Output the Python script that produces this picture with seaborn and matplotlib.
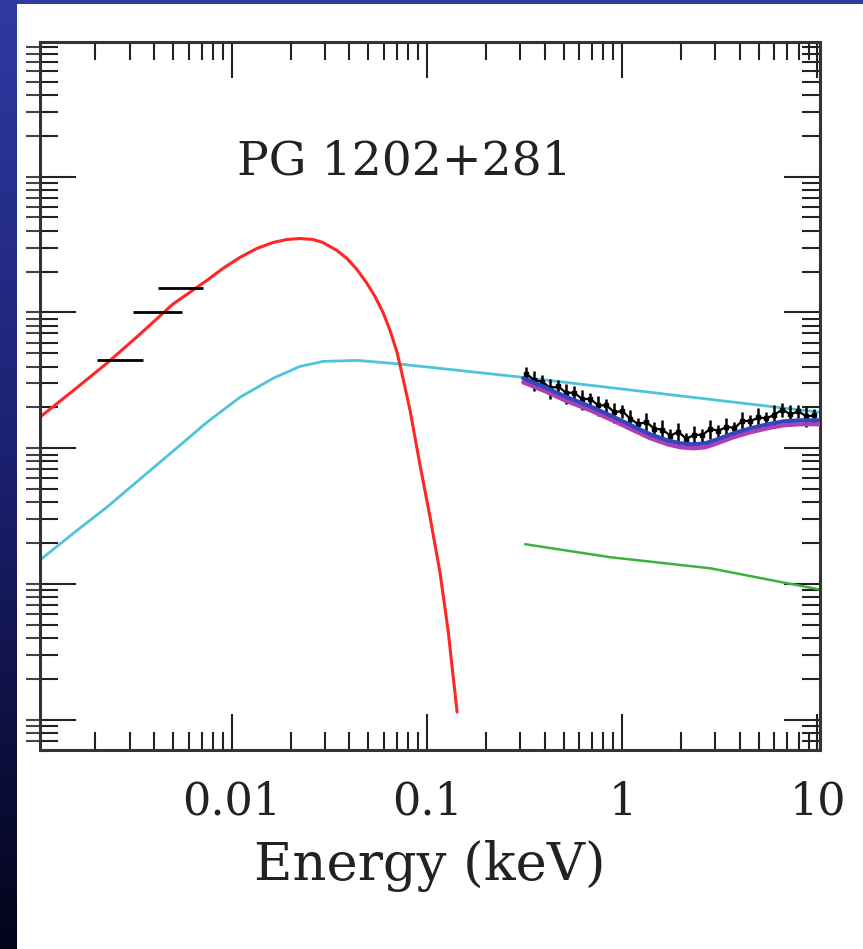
import numpy as np
import pandas as pd
import matplotlib
matplotlib.use("Agg")
import matplotlib.pyplot as plt
import seaborn as sns
from matplotlib.ticker import LogLocator, FixedLocator, FixedFormatter, NullFormatter
from matplotlib.colors import LinearSegmentedColormap

# ---------------- data (energy in keV, flux in arbitrary units) ----------------
disk_E = [1.036e-3, 1.530e-3, 2.286e-3, 3.375e-3, 4.983e-3, 7.443e-3, 8.991e-3, 1.099e-2,
          1.343e-2, 1.623e-2, 1.915e-2, 2.232e-2, 2.602e-2, 2.929e-2, 3.455e-2, 3.887e-2,
          4.375e-2, 4.924e-2, 5.412e-2, 5.948e-2, 6.461e-2, 7.018e-2, 7.530e-2, 8.180e-2,
          9.206e-2, 0.1036, 0.1166, 0.1281, 0.1425]
disk_F = [1.690e-3, 2.640e-3, 4.217e-3, 6.900e-3, 1.150e-2, 1.719e-2, 2.106e-2, 2.538e-2,
          2.956e-2, 3.271e-2, 3.441e-2, 3.500e-2, 3.441e-2, 3.271e-2, 2.857e-2, 2.495e-2,
          2.071e-2, 1.633e-2, 1.311e-2, 1.000e-2, 7.371e-3, 5.080e-3, 3.271e-3, 1.903e-3,
          7.499e-4, 3.109e-4, 1.204e-4, 4.589e-5, 1.145e-5]

comp_E = [1.036e-3, 1.530e-3, 2.286e-3, 3.375e-3, 4.983e-3, 7.443e-3, 1.099e-2, 1.623e-2,
          2.232e-2, 2.929e-2, 4.375e-2, 6.69e-2, 0.1166, 0.3108, 10.36]
comp_F = [1.501e-4, 2.350e-4, 3.683e-4, 5.917e-4, 9.500e-4, 1.553e-3, 2.371e-3, 3.271e-3,
          4.007e-3, 4.361e-3, 4.436e-3, 4.217e-3, 3.875e-3, 3.327e-3, 1.839e-3]

pl_E = [0.318, 0.867, 2.82, 7.01, 10.7]
pl_F = [1.97e-4, 1.58e-4, 1.31e-4, 1.016e-4, 9.04e-5]

model_E = [0.3108, 0.4029, 0.522, 0.6853, 0.8887, 1.139, 1.392, 1.701, 1.983, 2.313,
           2.665, 3.071, 3.708, 4.533, 5.541, 6.693, 8.180, 10.36]
model_F = [3.271e-3, 2.809e-3, 2.371e-3, 2.036e-3, 1.719e-3, 1.451e-3, 1.267e-3, 1.145e-3,
           1.088e-3, 1.070e-3, 1.088e-3, 1.165e-3, 1.289e-3, 1.403e-3, 1.501e-3, 1.579e-3,
           1.607e-3, 1.607e-3]
model2_F = [3.058e-3, 2.626e-3, 2.217e-3, 1.904e-3, 1.607e-3, 1.357e-3, 1.185e-3, 1.071e-3,
            1.017e-3, 1.000e-3, 1.017e-3, 1.089e-3, 1.205e-3, 1.312e-3, 1.403e-3, 1.476e-3,
            1.503e-3, 1.503e-3]

opt_E = [0.00267, 0.00441, 0.00562]
opt_Elo = [0.00203, 0.00310, 0.00418]
opt_Ehi = [0.00350, 0.00555, 0.00710]
opt_F = [4.44e-3, 1.00e-2, 1.50e-2]

xray_E = [0.322, 0.354, 0.389, 0.427, 0.470, 0.516, 0.567, 0.624, 0.685, 0.753, 0.828, 0.910,
          1.000, 1.099, 1.208, 1.327, 1.459, 1.604, 1.763, 1.937, 2.129, 2.340, 2.572, 2.827,
          3.107, 3.415, 3.753, 4.125, 4.533, 4.982, 5.476, 6.018, 6.614, 7.269, 7.989, 8.780, 9.652]
xray_F = [3.543e-3, 3.173e-3, 3.099e-3, 2.776e-3, 2.852e-3, 2.555e-3, 2.572e-3, 2.300e-3,
          2.312e-3, 2.067e-3, 2.074e-3, 1.846e-3, 1.881e-3, 1.648e-3, 1.506e-3, 1.563e-3,
          1.393e-3, 1.375e-3, 1.238e-3, 1.325e-3, 1.175e-3, 1.261e-3, 1.251e-3, 1.396e-3,
          1.341e-3, 1.444e-3, 1.408e-3, 1.596e-3, 1.580e-3, 1.687e-3, 1.659e-3, 1.772e-3,
          1.929e-3, 1.778e-3, 1.871e-3, 1.719e-3, 1.748e-3]
xray_Ferr = [4.2e-4, 5.3e-4, 3.5e-4, 4.6e-4, 3.2e-4, 4.3e-4, 2.9e-4, 3.9e-4, 2.6e-4, 3.5e-4,
             2.3e-4, 3.1e-4, 2.1e-4, 2.8e-4, 1.7e-4, 2.6e-4, 1.6e-4, 2.3e-4, 1.4e-4, 2.2e-4,
             1.3e-4, 2.1e-4, 1.4e-4, 2.3e-4, 1.5e-4, 2.4e-4, 1.6e-4, 2.7e-4, 1.8e-4, 2.8e-4,
             1.9e-4, 3.0e-4, 2.2e-4, 3.0e-4, 2.1e-4, 2.9e-4, 2.0e-4]

x_ticks = [0.01, 0.1, 1, 10]
x_ticklabels = ["0.01", "0.1", "1", "10"]
x_label = "Energy (keV)"
title_text = "PG 1202+281"

# ---------------- figure ----------------
sns.set_theme(style="ticks")
plt.rcParams["font.family"] = ["DejaVu Serif"]

W, H = 863, 949
fig = plt.figure(figsize=(W / 100, H / 100), dpi=100)
fig.patch.set_facecolor("white")

# frame: left gradient strip and top strip
axl = fig.add_axes([0, 0, 17 / W, 1])
grad = np.linspace(0, 1, 256).reshape(-1, 1)
cmap = LinearSegmentedColormap.from_list("frame", ["#2E3AA2", "#1A1F6E", "#03031A"])
axl.imshow(grad, aspect="auto", cmap=cmap, extent=[0, 1, 0, 1], origin="upper")
axl.set_axis_off()
axt = fig.add_axes([0, 1 - 4 / H, 1, 4 / H])
axt.set_facecolor("#2F3BA0")
axt.set_xticks([]); axt.set_yticks([])
for s in axt.spines.values():
    s.set_visible(False)

ax = fig.add_axes([40 / W, 1 - 750 / H, 780 / W, 708 / H])
ax.set_xscale("log")
ax.set_yscale("log")

df_disk = pd.DataFrame({"E": disk_E, "F": disk_F})
df_comp = pd.DataFrame({"E": comp_E, "F": comp_F})
df_pl = pd.DataFrame({"E": pl_E, "F": pl_F})
df_m1 = pd.DataFrame({"E": model_E, "F": model_F})
df_m2 = pd.DataFrame({"E": model_E, "F": model2_F})

sns.lineplot(data=df_comp, x="E", y="F", ax=ax, color="#4EC3DC", lw=2.0, sort=False, estimator=None)
sns.lineplot(data=df_disk, x="E", y="F", ax=ax, color="#FF2626", lw=2.2, sort=False, estimator=None)
sns.lineplot(data=df_pl, x="E", y="F", ax=ax, color="#3DB03D", lw=1.8, sort=False, estimator=None)

# X-ray data
ax.errorbar(xray_E, xray_F, yerr=xray_Ferr, fmt="s", ms=3.5, color="black", ecolor="black",
            elinewidth=1.8, capsize=0, zorder=3)
ax.plot(xray_E, xray_F, color="black", lw=1.6, zorder=3)
sns.lineplot(data=df_m2, x="E", y="F", ax=ax, color="#B13EB0", lw=3.0, sort=False, estimator=None, zorder=4)
sns.lineplot(data=df_m1, x="E", y="F", ax=ax, color="#3446BE", lw=3.0, sort=False, estimator=None, zorder=5)

# optical/UV points (horizontal bars)
xerr = [np.array(opt_E) - np.array(opt_Elo), np.array(opt_Ehi) - np.array(opt_E)]
ax.errorbar(opt_E, opt_F, xerr=xerr, fmt="none", ecolor="black", elinewidth=2.0, capsize=0, zorder=3)

ax.set_xlim(0.00104, 10.3)
ax.set_ylim(10 ** -5.22, 10 ** -0.01)

ax.xaxis.set_major_locator(FixedLocator(x_ticks))
ax.xaxis.set_major_formatter(FixedFormatter(x_ticklabels))
ax.xaxis.set_minor_locator(LogLocator(base=10, subs=np.arange(2, 10), numticks=100))
ax.xaxis.set_minor_formatter(NullFormatter())
ax.yaxis.set_major_locator(LogLocator(base=10, numticks=20))
ax.yaxis.set_minor_locator(LogLocator(base=10, subs=np.arange(2, 10), numticks=100))
ax.yaxis.set_major_formatter(NullFormatter())
ax.yaxis.set_minor_formatter(NullFormatter())

ax.tick_params(which="both", direction="in", top=True, right=True, bottom=True, left=True,
               color="#222222", width=1.5)
ax.tick_params(which="major", length=26)
ax.tick_params(which="minor", length=13)
ax.tick_params(axis="x", which="major", labelsize=32, pad=22, labelcolor="#222222")

# short outward stubs of the left-hand ticks (as in the scanned original)
sec = ax.secondary_yaxis("left")
sec.yaxis.set_major_locator(LogLocator(base=10, numticks=20))
sec.yaxis.set_minor_locator(LogLocator(base=10, subs=np.arange(2, 10), numticks=100))
sec.yaxis.set_major_formatter(NullFormatter())
sec.yaxis.set_minor_formatter(NullFormatter())
sec.tick_params(which="both", direction="out", length=10, width=1.5, color="#444444")
sec.spines["left"].set_visible(False)

for s in ax.spines.values():
    s.set_linewidth(2.2)
    s.set_color("#333333")

ax.set_xlabel(x_label, fontsize=38, labelpad=12, color="#222222")
ax.set_ylabel("")
ax.text(0.2526, 0.8305, title_text, transform=ax.transAxes, fontsize=34,
        ha="left", va="center", color="#222222")

fig.savefig("out.png", dpi=100, facecolor="white")
